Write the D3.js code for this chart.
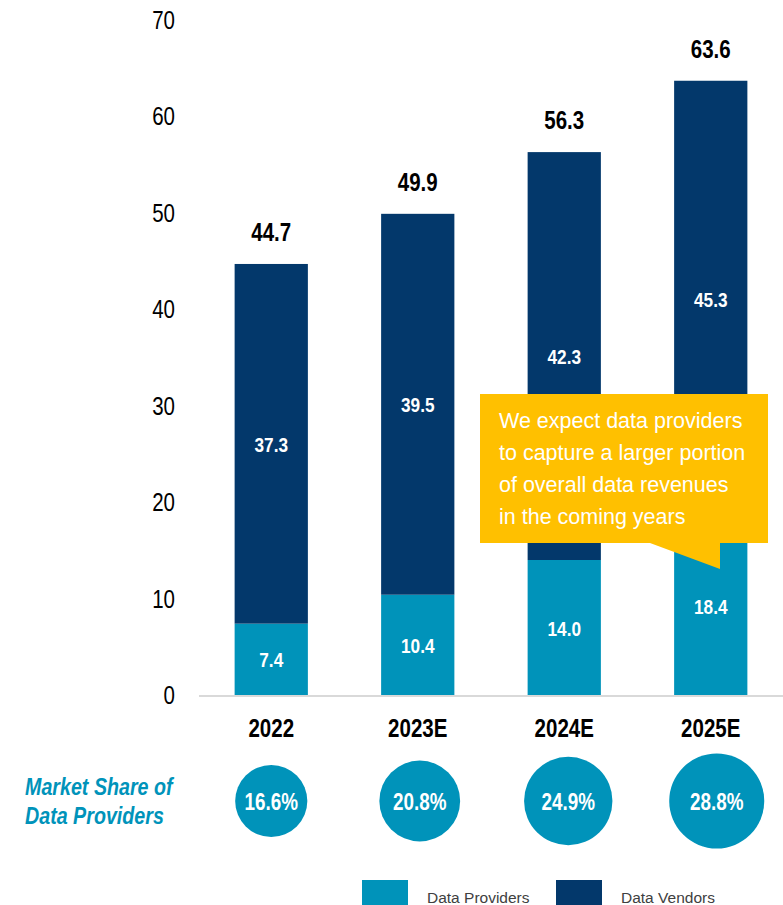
<!DOCTYPE html>
<html>
<head>
<meta charset="utf-8">
<script src="https://cdn.jsdelivr.net/npm/d3@7"></script>
<style>
  html, body { margin: 0; padding: 0; background: #fff; }
  svg { display: block; }
</style>
</head>
<body>
<div id="chart"></div>
<script>
'use strict';

var years = ["2022", "2023E", "2024E", "2025E"];
var providers = [7.4, 10.4, 14.0, 18.4];
var vendors = [37.3, 39.5, 42.3, 45.3];
var totals = [44.7, 49.9, 56.3, 63.6];
var shares = [16.6, 20.8, 24.9, 28.8];
var yTicks = [0, 10, 20, 30, 40, 50, 60, 70];
var calloutLines = ["We expect data providers", "to capture a larger portion", "of overall data revenues", "in the coming years"];

var width = 783, height = 905;
var font = "'Liberation Sans', Arial, sans-serif";
var squeeze = 0.82; // no Arial Narrow here, so condense Liberation Sans instead
var teal = "#0093ba", navy = "#03386b", yellow = "#ffc000";

var svg = d3.select("#chart").append("svg")
    .attr("width", width)
    .attr("height", height);

var x = d3.scaleBand()
    .domain(years)
    .range([198, 784])
    .paddingInner(0.5)
    .paddingOuter(0.25);

var y = d3.scaleLinear()
    .domain([0, 70])
    .range([695, 20]);

var r = d3.scaleSqrt()
    .domain([0, 30])
    .range([0, 48.5]);

var rows = years.map(function (d, i) {
    return { year: d, providers: providers[i], vendors: vendors[i], total: totals[i], share: shares[i] };
});

var stack = d3.stack().keys(["providers", "vendors"]);
var series = stack(rows);
var colors = { providers: teal, vendors: navy };

// place condensed text at (px, py)
function narrowAt(px, py) {
    return "translate(" + px + "," + py + ") scale(" + squeeze + ",1)";
}

// y tick labels (no axis line)
svg.append("g")
    .selectAll("text")
    .data(yTicks)
    .enter().append("text")
    .attr("transform", function (d) { return narrowAt(175, y(d) + 9); })
    .attr("text-anchor", "end")
    .style("font-family", font)
    .style("font-size", "25px")
    .style("fill", "#000")
    .text(function (d) { return d; });

// stacked bars
var layers = svg.append("g")
    .selectAll("g")
    .data(series)
    .enter().append("g")
    .attr("fill", function (d) { return colors[d.key]; });

layers.selectAll("rect")
    .data(function (d) { return d; })
    .enter().append("rect")
    .attr("x", function (d) { return x(d.data.year); })
    .attr("y", function (d) { return y(d[1]); })
    .attr("width", x.bandwidth())
    .attr("height", function (d) { return y(d[0]) - y(d[1]); });

// segment labels
layers.selectAll("text")
    .data(function (d) { return d.map(function (p) { return { p: p, key: d.key }; }); })
    .enter().append("text")
    .attr("transform", function (d) {
        return narrowAt(x(d.p.data.year) + x.bandwidth() / 2, (y(d.p[0]) + y(d.p[1])) / 2 + 8);
    })
    .attr("text-anchor", "middle")
    .style("font-family", font)
    .style("font-weight", "bold")
    .style("font-size", "21px")
    .style("fill", "#fff")
    .text(function (d) { return d.p.data[d.key].toFixed(1); });

// baseline
svg.append("line")
    .attr("x1", 199).attr("x2", 783)
    .attr("y1", y(0) + 1).attr("y2", y(0) + 1)
    .attr("stroke", "#d9d9d9")
    .attr("stroke-width", 2);

// totals on top
svg.append("g")
    .selectAll("text")
    .data(rows)
    .enter().append("text")
    .attr("transform", function (d) {
        return narrowAt(x(d.year) + x.bandwidth() / 2, y(d.providers + d.vendors) - 23);
    })
    .attr("text-anchor", "middle")
    .style("font-family", font)
    .style("font-weight", "bold")
    .style("font-size", "25px")
    .style("fill", "#000")
    .text(function (d) { return d.total.toFixed(1); });

// year labels
svg.append("g")
    .selectAll("text")
    .data(years)
    .enter().append("text")
    .attr("transform", function (d) { return narrowAt(x(d) + x.bandwidth() / 2, 737); })
    .attr("text-anchor", "middle")
    .style("font-family", font)
    .style("font-weight", "bold")
    .style("font-size", "25px")
    .style("fill", "#000")
    .text(function (d) { return d; });

// market share row
svg.append("text")
    .attr("transform", narrowAt(25, 795))
    .style("font-family", font)
    .style("font-weight", "bold")
    .style("font-style", "italic")
    .style("font-size", "24px")
    .style("fill", teal)
    .selectAll("tspan")
    .data(["Market Share of", "Data Providers"])
    .enter().append("tspan")
    .attr("x", 0)
    .attr("y", function (d, i) { return i * 29; })
    .text(function (d) { return d; });

var bubbles = svg.append("g")
    .selectAll("g")
    .data(rows)
    .enter().append("g")
    .attr("transform", function (d, i) { return "translate(" + (x(d.year) + x.bandwidth() / 2 + i * 2) + ",801)"; });

bubbles.append("circle")
    .attr("r", function (d) { return r(d.share); })
    .attr("fill", teal);

bubbles.append("text")
    .attr("transform", narrowAt(0, 9))
    .attr("text-anchor", "middle")
    .style("font-family", font)
    .style("font-weight", "bold")
    .style("font-size", "23px")
    .style("fill", "#fff")
    .text(function (d) { return d.share.toFixed(1) + "%"; });

// callout
var callout = svg.append("g");
callout.append("path")
    .attr("d", "M480,394H768V543H720V569L650,543H480Z")
    .attr("fill", yellow);

callout.append("text")
    .style("font-family", font)
    .style("font-size", "21.5px")
    .style("fill", "#fff")
    .selectAll("tspan")
    .data(calloutLines)
    .enter().append("tspan")
    .attr("x", 499)
    .attr("y", function (d, i) { return 428 + i * 32; })
    .text(function (d) { return d; });

// legend
var legendItems = [
    { label: "Data Providers", color: teal, x: 362 },
    { label: "Data Vendors", color: navy, x: 556 }
];
var legend = svg.append("g")
    .selectAll("g")
    .data(legendItems)
    .enter().append("g")
    .attr("transform", function (d) { return "translate(" + d.x + ",880)"; });

legend.append("rect")
    .attr("width", 46)
    .attr("height", 30)
    .attr("fill", function (d) { return d.color; });

legend.append("text")
    .attr("x", 65)
    .attr("y", 23)
    .style("font-family", font)
    .style("font-size", "15.5px")
    .style("fill", "#404040")
    .text(function (d) { return d.label; });
</script>
</body>
</html>
